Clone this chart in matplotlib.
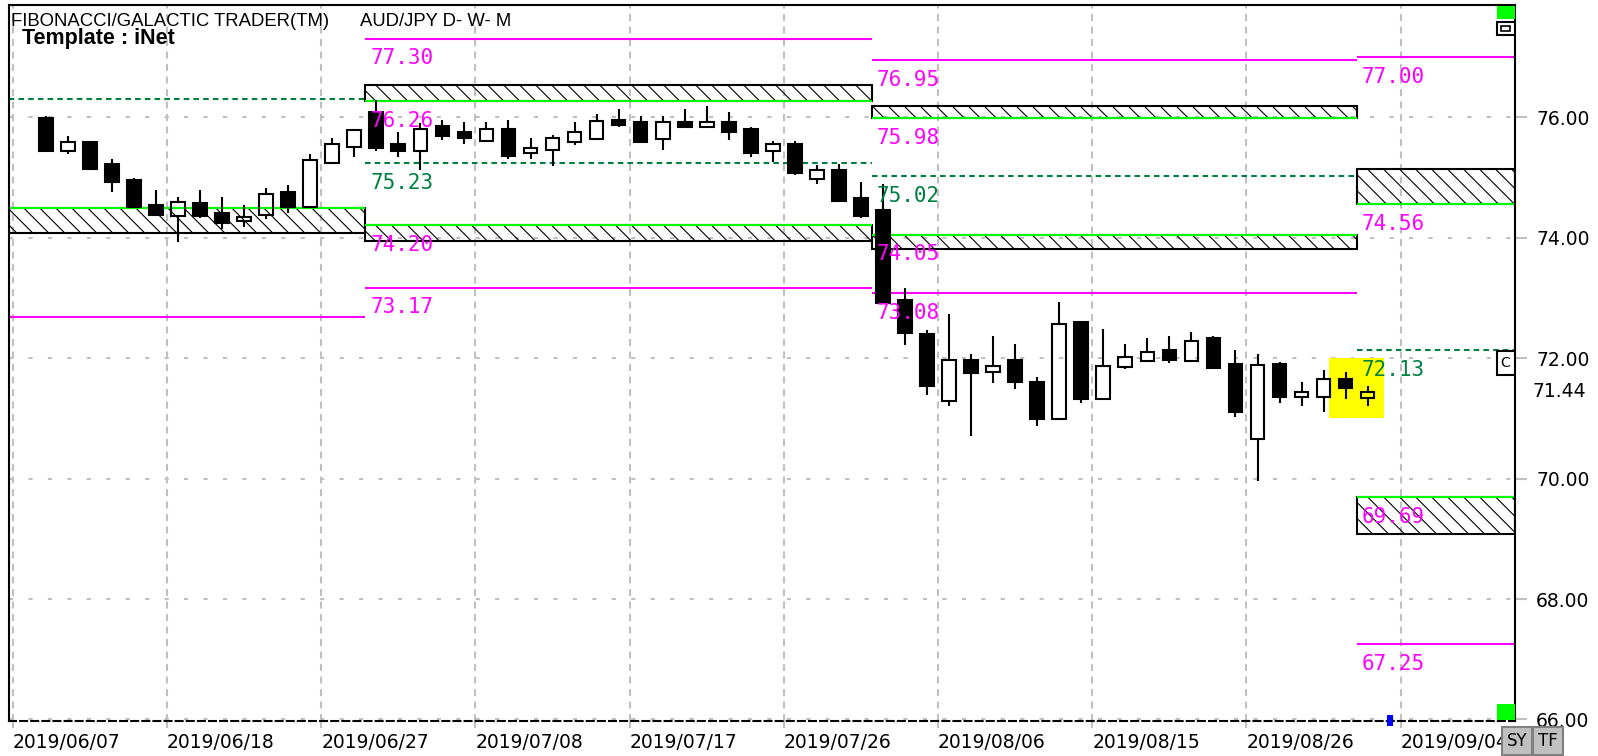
import numpy as np
import matplotlib
matplotlib.use("Agg")
import matplotlib.pyplot as plt
from matplotlib.patches import Rectangle
from matplotlib.collections import LineCollection
from matplotlib import transforms

plt.rcParams['lines.scale_dashes'] = False

# daily AUD/JPY bars (bar 1 = 2019/06/10 ... bar 61 = 2019/09/02)
opens = [75.98, 75.43, 75.58, 75.22, 74.95, 74.54, 74.35, 74.58, 74.40, 74.27,
         74.37, 74.75, 74.51, 75.24, 75.50, 76.09, 75.55, 75.44, 75.85, 75.75,
         75.60, 75.81, 75.40, 75.46, 75.59, 75.63, 75.95, 75.91, 75.63, 75.91,
         75.84, 75.91, 75.81, 75.43, 75.55, 74.97, 75.12, 74.66, 74.46, 72.96,
         72.40, 71.29, 71.96, 71.76, 71.97, 71.60, 70.99, 72.59, 71.32, 71.85,
         71.95, 72.13, 71.95, 72.33, 71.90, 70.65, 71.90, 71.35, 71.35, 71.66,
         71.33]
highs = [76.02, 75.69, 75.58, 75.31, 74.99, 74.79, 74.68, 74.79, 74.68, 74.54,
         74.82, 74.88, 75.38, 75.65, 75.81, 76.28, 75.75, 75.90, 75.95, 75.91,
         75.91, 75.95, 75.65, 75.71, 75.91, 76.05, 76.14, 76.02, 76.02, 76.14,
         76.18, 76.08, 75.84, 75.61, 75.61, 75.20, 75.22, 74.92, 74.89, 73.16,
         72.47, 72.73, 72.07, 72.37, 72.23, 71.69, 72.93, 72.59, 72.49, 72.23,
         72.33, 72.37, 72.43, 72.37, 72.13, 72.06, 71.93, 71.60, 71.80, 71.76,
         71.53]
lows = [75.43, 75.39, 75.13, 74.76, 74.50, 74.35, 73.93, 74.32, 74.15, 74.18,
        74.30, 74.40, 74.50, 75.24, 75.33, 75.43, 75.33, 75.12, 75.62, 75.56,
        75.60, 75.30, 75.30, 75.19, 75.54, 75.63, 75.83, 75.59, 75.45, 75.83,
        75.84, 75.62, 75.33, 75.25, 75.03, 74.89, 74.60, 74.33, 72.91, 72.21,
        71.38, 71.21, 70.71, 71.58, 71.48, 70.88, 70.99, 71.25, 71.32, 71.81,
        71.95, 71.91, 71.95, 71.81, 71.02, 69.96, 71.25, 71.21, 71.11, 71.32,
        71.21]
closes = [75.43, 75.58, 75.13, 74.93, 74.51, 74.37, 74.59, 74.35, 74.24, 74.34,
          74.72, 74.51, 75.28, 75.55, 75.78, 75.49, 75.43, 75.81, 75.69, 75.66,
          75.81, 75.36, 75.48, 75.65, 75.75, 75.94, 75.86, 75.59, 75.91, 75.83,
          75.91, 75.76, 75.40, 75.55, 75.07, 75.12, 74.60, 74.36, 72.91, 72.41,
          71.54, 71.96, 71.75, 71.86, 71.61, 70.98, 72.56, 71.32, 71.86, 72.02,
          72.10, 71.97, 72.29, 71.83, 71.11, 71.89, 71.35, 71.43, 71.65, 71.51,
          71.44]
bars = np.arange(1, len(opens) + 1)
last_price = 71.44

date_labels = ['2019/06/07', '2019/06/18', '2019/06/27', '2019/07/08', '2019/07/17',
               '2019/07/26', '2019/08/06', '2019/08/15', '2019/08/26', '2019/09/04']
date_ticks = np.arange(len(date_labels)) * 7 - 0.5

price_ticks = [66, 68, 70, 72, 74, 76]

# monthly fibonacci blocks (June, July, August, September)
month_start = [-3.0, 15.5, 38.5, 60.5]
month_end = [15.5, 38.5, 60.5, 68.0]
top_level = [79.92, 77.30, 76.95, 77.00]
res_level = [78.11, 76.26, 75.98, 74.56]
res_edge = [78.56, 76.53, 76.19, 75.13]
mid_level = [76.30, 75.23, 75.02, 72.13]
sup_level = [74.49, 74.20, 74.05, 69.69]
sup_edge = [74.08, 73.95, 73.81, 69.08]
bot_level = [72.68, 73.17, 73.08, 67.25]

highlight_bars = [59.26, 61.72]
highlight_prices = [71.0, 72.0]
next_bar = 62

MAG = '#ff00ff'
DKG = '#008040'
LIME = '#00ff00'
GRID = '#c0c0c0'

W, H = 1598, 756
fig = plt.figure(figsize=(W / 100, H / 100), dpi=100)
ax_w, ax_h = 1514.6 - 8.6, 720.7 - 5
ax = fig.add_axes([8.6 / W, (H - 720.7) / H, ax_w / W, ax_h / H])
xlim = (-0.69, 67.67)
ylim = (65.98, 77.86)
ax.set_xlim(*xlim)
ax.set_ylim(*ylim)
px_x = ax_w / (xlim[1] - xlim[0])   # pixels per bar
px_y = ax_h / (ylim[1] - ylim[0])   # pixels per yen


def hatched_zone(x0, x1, y0, y1):
    x0, x1 = max(x0, xlim[0]), min(x1, xlim[1])
    rect = Rectangle((x0, y0), x1 - x0, y1 - y0, facecolor='none',
                     edgecolor='black', lw=1.5, zorder=2.2)
    ax.add_patch(rect)
    step = 16.0 / px_x
    run = (y1 - y0) * px_y / px_x
    ks = np.arange(np.floor((x0 - run) / step), np.ceil(x1 / step) + 1)
    segs = [[(k * step, y1), (k * step + run, y0)] for k in ks]
    lc = LineCollection(segs, colors='black', linewidths=0.8, zorder=2)
    ax.add_collection(lc)
    lc.set_clip_path(rect)


# grid
for xt in date_ticks:
    ax.axvline(xt, color=GRID, lw=1.5, linestyle=(0, (5, 4)), zorder=0)
for yt in price_ticks:
    ax.axhline(yt, color=GRID, lw=1.5, linestyle=(0, (3, 11)), zorder=0)

# yellow highlight of the last bars
ax.add_patch(Rectangle((highlight_bars[0], highlight_prices[0]),
                       highlight_bars[1] - highlight_bars[0],
                       highlight_prices[1] - highlight_prices[0],
                       facecolor='#ffff00', edgecolor='none', zorder=1))

# fibonacci levels and zones
for k in range(len(month_start)):
    s, e = month_start[k], month_end[k]
    ax.hlines([top_level[k], bot_level[k]], s, e, color=MAG, lw=1.5, zorder=2)
    ax.hlines(mid_level[k], s, e, color=DKG, lw=1.5, linestyles=(0, (4, 3)), zorder=2)
    for lvl, edge in [(res_level[k], res_edge[k]), (sup_level[k], sup_edge[k])]:
        hatched_zone(s, e, min(lvl, edge), max(lvl, edge))
        ax.hlines(lvl, s, e, color=LIME, lw=1.5, zorder=2.5)
    if s < xlim[0]:
        continue
    for v, c in [(top_level[k], MAG), (res_level[k], MAG), (mid_level[k], DKG),
                 (sup_level[k], MAG), (bot_level[k], MAG)]:
        ax.annotate(f'{v:.2f}', xy=(s, v), xytext=(3.6, -7), textcoords='offset points',
                    ha='left', va='top', color=c, fontsize=15,
                    family='DejaVu Sans Mono', zorder=5, annotation_clip=True)

# candles
w = 0.62
for i, o, h, l, c in zip(bars, opens, highs, lows, closes):
    top, bot = max(o, c), min(o, c)
    ax.vlines(i, top, h, color='black', lw=1.5, zorder=3)
    ax.vlines(i, l, bot, color='black', lw=1.5, zorder=3)
    ax.add_patch(Rectangle((i - w / 2, bot), w, max(top - bot, 0.02),
                           facecolor='black' if c < o else 'none',
                           edgecolor='black', lw=1.5, zorder=3))

# axes look
for sp in ['left', 'top', 'right']:
    ax.spines[sp].set_linewidth(1.5)
ax.spines['bottom'].set_linestyle((0, (5, 3)))
ax.spines['bottom'].set_linewidth(1.5)

ax.yaxis.tick_right()
ax.set_yticks(price_ticks)
ax.set_yticklabels([f'{v:.2f}' for v in price_ticks])
ax.tick_params(axis='y', length=8.5, width=1.5, color=GRID, pad=7, labelsize=13.5)
ax.set_xticks(date_ticks)
ax.set_xticklabels(date_labels)
ax.tick_params(axis='x', length=5, width=1.5, color=GRID, pad=3.5, labelsize=13.5)
plt.setp(ax.get_xticklabels(), ha='left')

tr = transforms.blended_transform_factory(ax.transAxes, ax.transData)
ax.text(1.0122, last_price, f'{last_price:.2f}', transform=tr, ha='left', va='center',
        fontsize=13.5, clip_on=False)

# small chart widgets at the right edge
ax.add_patch(Rectangle((0.988, 0.980), 0.012, 0.019, transform=ax.transAxes,
                       facecolor=LIME, edgecolor='none', zorder=6))
ax.add_patch(Rectangle((0.988, 0.958), 0.012, 0.018, transform=ax.transAxes,
                       facecolor='white', edgecolor='black', lw=1.5, zorder=6))
ax.add_patch(Rectangle((0.991, 0.963), 0.006, 0.008, transform=ax.transAxes,
                       facecolor='white', edgecolor='black', lw=1.2, zorder=6))
ax.add_patch(Rectangle((0.988, 0.483), 0.012, 0.034, transform=ax.transAxes,
                       facecolor='white', edgecolor='black', lw=1.5, zorder=6))
ax.text(0.994, 0.500, 'C', transform=ax.transAxes, ha='center', va='center',
        fontsize=10, zorder=7)
ax.add_patch(Rectangle((0.988, 0.001), 0.012, 0.022, transform=ax.transAxes,
                       facecolor=LIME, edgecolor='none', zorder=6))
ax.add_patch(Rectangle((next_bar - 0.14, ylim[0] - 0.08), 0.28, 0.17,
                       facecolor='#0000ff', edgecolor='none', zorder=6, clip_on=False))

for j, lab in enumerate(['SY', 'TF']):
    x0 = (1502 + 31 * j) / W
    fig.add_artist(Rectangle((x0, 1 / H), 30 / W, 28 / H, transform=fig.transFigure,
                             facecolor='#c0c0c0', edgecolor='#808080', lw=1.5))
    fig.text(x0 + 15 / W, 15 / H, lab, ha='center', va='center', fontsize=12)

# header texts
fig.text(11 / W, 1 - 13 / H, 'FIBONACCI/GALACTIC TRADER(TM)', ha='left', va='top',
         fontsize=13.3, family='Liberation Sans')
fig.text(360 / W, 1 - 13 / H, 'AUD/JPY D- W- M', ha='left', va='top',
         fontsize=13.3, family='Liberation Sans')
fig.text(22 / W, 1 - 28 / H, 'Template : iNet', ha='left', va='top',
         fontsize=15.5, fontweight='bold', family='Liberation Sans')

fig.savefig('out.png', dpi=100)
